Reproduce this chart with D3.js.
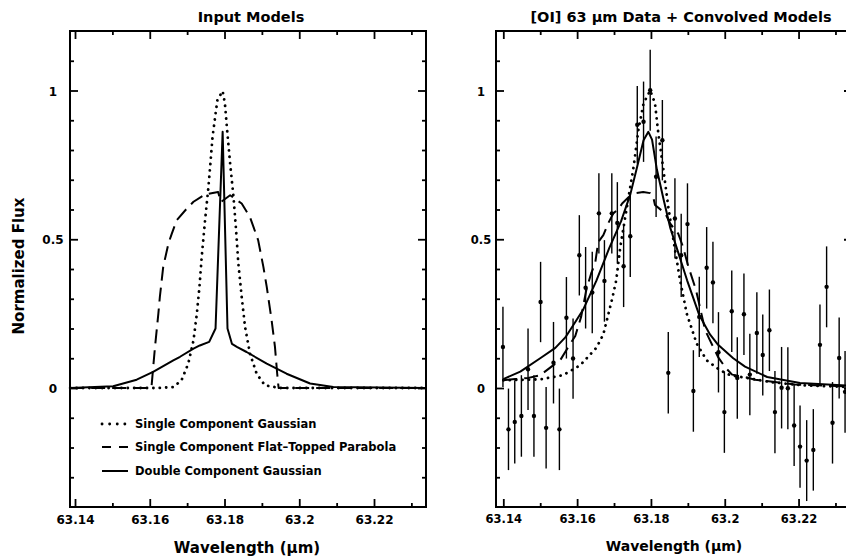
<!DOCTYPE html>
<html>
<head>
<meta charset="utf-8">
<script src="https://cdn.jsdelivr.net/npm/d3@7"></script>
<style>
  body { margin: 0; background: #fff; }
  svg { display: block; }
  text { font-family: "DejaVu Sans", sans-serif; font-weight: bold; fill: #000; }
</style>
</head>
<body>
<div id="chart"></div>
<script>
// ---- data ----
const majorX = [63.14, 63.16, 63.18, 63.2, 63.22];
const majorXLabels = ["63.14", "63.16", "63.18", "63.2", "63.22"];
const minorX = [63.15, 63.17, 63.19, 63.21, 63.23];
const majorY = [0, 0.5, 1];
const majorYLabels = ["0", "0.5", "1"];
const minorY = [-0.3, -0.2, -0.1, 0.1, 0.2, 0.3, 0.4, 0.6, 0.7, 0.8, 0.9, 1.1];

const legendLabels = ["Single Component Gaussian", "Single Component Flat\u2013Topped Parabola", "Double Component Gaussian"];

// left panel: input models  [wavelength, flux]
const inGauss = [[63.1387,0],[63.1619,0],[63.1663,0.003],[63.1685,0.026],[63.1703,0.082],[63.1717,0.160],[63.1726,0.250],
  [63.1733,0.340],[63.1739,0.441],[63.1748,0.564],[63.1757,0.676],[63.1763,0.766],[63.1768,0.844],[63.1775,0.912],
  [63.1781,0.968],[63.1795,0.998],[63.1801,0.957],[63.1807,0.867],[63.1815,0.755],[63.1824,0.643],[63.1831,0.530],
  [63.1837,0.418],[63.1846,0.306],[63.1855,0.205],[63.1868,0.116],[63.1886,0.048],[63.1908,0.009],[63.1949,0],[63.2339,0]];
const inParab = [[63.1387,0],[63.1604,0],[63.1605,0.009],[63.1614,0.138],[63.1623,0.250],[63.1627,0.306],[63.1636,0.407],
  [63.1650,0.486],[63.1659,0.519],[63.1672,0.564],[63.1699,0.603],[63.1717,0.626],[63.1748,0.651],[63.1783,0.659],
  [63.1790,0.625],[63.1815,0.648],[63.1846,0.620],[63.1868,0.575],[63.1890,0.497],[63.1904,0.407],[63.1913,0.340],
  [63.1926,0.228],[63.1935,0.138],[63.1941,0.048],[63.1944,0.009],[63.1945,0],[63.2339,0]];
const inDouble = [[63.1387,0],[63.1502,0.006],[63.1565,0.028],[63.1609,0.054],[63.1663,0.093],[63.1681,0.105],
  [63.1717,0.132],[63.1734,0.143],[63.1759,0.155],[63.1776,0.200],[63.1795,0.861],[63.1808,0.200],[63.1820,0.148],
  [63.1833,0.138],[63.1859,0.121],[63.1913,0.082],[63.1966,0.048],[63.2029,0.015],[63.2091,0.003],[63.2339,0]];

// right panel: data with errors  [wavelength, flux, error]
const obsData = [
  [63.1399,0.138,0.135],[63.1414,-0.139,0.137],[63.1431,-0.114,0.140],[63.1449,-0.094,0.137],[63.1467,0.063,0.137],
  [63.1483,-0.094,0.137],[63.1501,0.289,0.135],[63.1516,-0.134,0.137],[63.1536,0.085,0.137],[63.1552,-0.139,0.137],
  [63.1571,0.236,0.137],[63.1589,0.099,0.135],[63.1606,0.446,0.135],[63.1623,0.337,0.137],[63.1641,0.321,0.137],
  [63.1659,0.587,0.135],[63.1674,0.360,0.137],[63.1694,0.587,0.135],[63.1709,0.555,0.137],[63.1726,0.409,0.137],
  [63.1744,0.510,0.137],[63.1763,0.885,0.130],[63.1780,0.895,0.135],[63.1798,1.001,0.136],[63.1814,0.710,0.135],
  [63.1831,0.833,0.135],[63.1847,0.051,0.137],[63.1865,0.570,0.135],[63.1882,0.446,0.140],[63.1899,0.551,0.137],
  [63.1915,-0.010,0.137],[63.1931,0.239,0.135],[63.1951,0.404,0.137],[63.1968,0.355,0.137],[63.1983,0.120,0.135],
  [63.1999,-0.081,0.137],[63.2019,0.258,0.137],[63.2034,0.034,0.137],[63.2052,0.248,0.137],[63.2068,0.045,0.137],
  [63.2087,0.185,0.137],[63.2103,0.111,0.136],[63.2121,0.194,0.137],[63.2136,-0.081,0.138],[63.2154,0.001,0.137],
  [63.2171,-0.001,0.138],[63.2188,-0.126,0.136],[63.2204,-0.197,0.138],[63.2222,-0.244,0.136],[63.2240,-0.208,0.137],
  [63.2258,0.145,0.136],[63.2276,0.340,0.136],[63.2292,-0.117,0.137],[63.2310,0.101,0.136],[63.2326,-0.013,0.137]];

// right panel: convolved models
const convGauss = [[63.1400,0.026],[63.1500,0.029],[63.1562,0.043],[63.1608,0.076],[63.1652,0.135],[63.1671,0.180],
  [63.1684,0.245],[63.1695,0.300],[63.1706,0.362],[63.1717,0.474],[63.1735,0.609],[63.1753,0.743],[63.1766,0.867],
  [63.1780,0.957],[63.1798,1.000],[63.1811,0.957],[63.1820,0.856],[63.1834,0.732],[63.1847,0.609],[63.1861,0.497],
  [63.1879,0.362],[63.1897,0.250],[63.1924,0.149],[63.1951,0.093],[63.1987,0.060],[63.2015,0.043],[63.2069,0.032],
  [63.2123,0.020],[63.2212,0.009],[63.2345,0.003]];
const convParab = [[63.1400,0.026],[63.1432,0.030],[63.1468,0.034],[63.1500,0.043],[63.1535,0.076],[63.1554,0.093],
  [63.1576,0.138],[63.1595,0.175],[63.1611,0.240],[63.1625,0.330],[63.1638,0.385],[63.1649,0.420],[63.1657,0.490],
  [63.1671,0.514],[63.1684,0.553],[63.1698,0.587],[63.1711,0.600],[63.1722,0.620],[63.1738,0.640],[63.1757,0.655],
  [63.1779,0.659],[63.1798,0.655],[63.1806,0.643],[63.1811,0.615],[63.1839,0.587],[63.1852,0.553],[63.1874,0.519],
  [63.1887,0.474],[63.1901,0.410],[63.1922,0.330],[63.1947,0.194],[63.1960,0.160],[63.1982,0.104],[63.2001,0.070],
  [63.2020,0.045],[63.2055,0.037],[63.2082,0.028],[63.2136,0.020],[63.2190,0.012],[63.2345,0.005]];
const convDouble = [[63.1400,0.030],[63.1446,0.055],[63.1500,0.100],[63.1541,0.135],[63.1568,0.170],[63.1589,0.210],
  [63.1617,0.265],[63.1652,0.360],[63.1687,0.470],[63.1719,0.560],[63.1744,0.650],[63.1763,0.745],[63.1780,0.833],
  [63.1793,0.861],[63.1803,0.835],[63.1816,0.735],[63.1834,0.635],[63.1852,0.540],[63.1874,0.455],[63.1898,0.362],
  [63.1931,0.245],[63.1960,0.180],[63.1982,0.145],[63.2023,0.100],[63.2055,0.072],[63.2115,0.037],[63.2204,0.017],
  [63.2345,0.007]];

// ---- layout ----
const W = 846, H = 557;
const plotTop = 31, plotBottom = 507;

const svg = d3.select("#chart").append("svg")
  .attr("width", W).attr("height", H);

const y = d3.scaleLinear().domain([-0.4, 1.2]).range([plotBottom, plotTop]);

const dotStyle = { dash: "0.1 6.3", width: 2.8, cap: "round" };
const dashStyle = { dash: "14 7", width: 2, cap: "butt" };
const solidStyle = { dash: null, width: 2, cap: "butt" };

function panel(x, opts) {
  const g = svg.append("g");
  const [x0, x1] = x.range();

  // inward ticks on all four sides
  const major = 8, minor = 4;
  g.append("g").attr("transform", `translate(0,${plotBottom})`)
    .call(d3.axisBottom(x).tickValues(majorX).tickSize(-major).tickPadding(8)
      .tickFormat((d, i) => majorXLabels[i]));
  g.append("g").attr("transform", `translate(0,${plotBottom})`)
    .call(d3.axisBottom(x).tickValues(minorX).tickSize(-minor).tickFormat(""));
  g.append("g").attr("transform", `translate(0,${plotTop})`)
    .call(d3.axisTop(x).tickValues(majorX).tickSize(-major).tickFormat(""));
  g.append("g").attr("transform", `translate(0,${plotTop})`)
    .call(d3.axisTop(x).tickValues(minorX).tickSize(-minor).tickFormat(""));
  g.append("g").attr("transform", `translate(${x0},0)`)
    .call(d3.axisLeft(y).tickValues(majorY).tickSize(-major).tickFormat(""));
  g.append("g").attr("transform", `translate(${x0},0)`)
    .call(d3.axisLeft(y).tickValues(minorY).tickSize(-minor).tickFormat(""));
  g.append("g").attr("transform", `translate(${x1},0)`)
    .call(d3.axisRight(y).tickValues(majorY).tickSize(-major).tickFormat(""));
  g.append("g").attr("transform", `translate(${x1},0)`)
    .call(d3.axisRight(y).tickValues(minorY).tickSize(-minor).tickFormat(""));

  g.selectAll(".domain").remove();
  g.selectAll(".tick line").attr("stroke", "#000").attr("stroke-width", 1.8);
  g.selectAll(".tick text").attr("font-size", opts.tickFont).attr("fill", "#000")
    .style("font-family", "DejaVu Sans").style("font-weight", "bold");

  // y labels, centred like the original
  g.selectAll(".ylab").data(majorY).enter().append("text")
    .attr("class", "ylab")
    .attr("x", opts.yLabX)
    .attr("y", d => y(d) + 5)
    .attr("text-anchor", "middle")
    .attr("font-size", opts.tickFont)
    .text((d, i) => majorYLabels[i]);

  // frame
  g.append("rect")
    .attr("x", x0).attr("y", plotTop)
    .attr("width", x1 - x0).attr("height", plotBottom - plotTop)
    .attr("fill", "none").attr("stroke", "#000").attr("stroke-width", 2);

  // title and x label
  g.append("text").attr("x", opts.titleX).attr("y", 22)
    .attr("text-anchor", "middle").attr("font-size", 14.5).text(opts.title);
  g.append("text").attr("x", opts.xLabelX).attr("y", opts.xLabelY)
    .attr("text-anchor", "middle").attr("font-size", opts.xLabelFont)
    .text("Wavelength (\u03bcm)");

  return g;
}

function drawCurve(g, x, pts, st) {
  const line = d3.line().x(d => x(d[0])).y(d => y(d[1]));
  g.append("path").datum(pts)
    .attr("d", line)
    .attr("fill", "none")
    .attr("stroke", "#000")
    .attr("stroke-width", st.width)
    .attr("stroke-linecap", st.cap)
    .attr("stroke-linejoin", "round")
    .attr("stroke-dasharray", st.dash);
}

// ---- left panel ----
const xL = d3.scaleLinear().domain([63.13866, 63.23391]).range([70, 426]);
const gL = panel(xL, { title: "Input Models", titleX: 251, tickFont: 12, yLabX: 53,
  xLabelX: 247, xLabelY: 553, xLabelFont: 15 });

drawCurve(gL, xL, inGauss, dotStyle);
drawCurve(gL, xL, inParab, dashStyle);
drawCurve(gL, xL, inDouble, solidStyle);

// legend
const legStyles = [
  { dash: "0.1 7.5", width: 2.8, cap: "round" },
  { dash: "9 8", width: 2, cap: "butt" },
  { dash: null, width: 2, cap: "butt" }];
const legY = [424, 447, 471];
legendLabels.forEach((lab, i) => {
  gL.append("line")
    .attr("x1", 102).attr("x2", 128).attr("y1", legY[i]).attr("y2", legY[i])
    .attr("stroke", "#000").attr("stroke-width", legStyles[i].width)
    .attr("stroke-linecap", legStyles[i].cap)
    .attr("stroke-dasharray", legStyles[i].dash);
  gL.append("text").attr("x", 135).attr("y", legY[i] + 4)
    .attr("font-size", 11.5).text(lab);
});

// y axis title
svg.append("text")
  .attr("transform", "translate(24,266) rotate(-90)")
  .attr("text-anchor", "middle")
  .attr("font-size", 15)
  .text("Normalized Flux");

// ---- right panel ----
const xR = d3.scaleLinear().domain([63.13802, 63.23448]).range([496, 852]);
const gR = panel(xR, { title: "[OI] 63 \u03bcm Data + Convolved Models", titleX: 681, tickFont: 11.5, yLabX: 481,
  xLabelX: 674, xLabelY: 551, xLabelFont: 14 });

gR.selectAll(".err").data(obsData).enter().append("line")
  .attr("class", "err")
  .attr("x1", d => xR(d[0])).attr("x2", d => xR(d[0]))
  .attr("y1", d => y(d[1] - d[2])).attr("y2", d => y(d[1] + d[2]))
  .attr("stroke", "#000").attr("stroke-width", 1.4);
gR.selectAll(".pt").data(obsData).enter().append("circle")
  .attr("class", "pt")
  .attr("cx", d => xR(d[0])).attr("cy", d => y(d[1]))
  .attr("r", 2.2).attr("fill", "#000");

drawCurve(gR, xR, convGauss, dotStyle);
drawCurve(gR, xR, convParab, dashStyle);
drawCurve(gR, xR, convDouble, solidStyle);
</script>
</body>
</html>
